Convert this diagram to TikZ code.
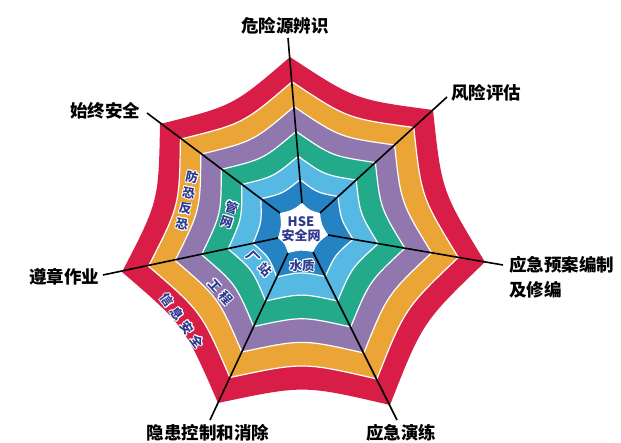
\documentclass[tikz,border=0pt]{standalone}
\usepackage{fontspec}
\usepackage{contour}
\usetikzlibrary{calc}
\newfontfamily\cjk{Noto Sans CJK SC}
\contourlength{0.9pt}
\contournumber{12}
\definecolor{wred}{HTML}{D81E47}
\definecolor{worange}{HTML}{EBA536}
\definecolor{wpurple}{HTML}{9078AE}
\definecolor{wgreen}{HTML}{23AA8B}
\definecolor{wlblue}{HTML}{55B9E3}
\definecolor{wdblue}{HTML}{2583C4}
\definecolor{navy}{HTML}{2D3A8F}
\newcommand\wt[1]{\contour{white}{#1}}
\newcommand\webring[2]{%
  \path[#2] (p#1-1) .. controls (c#1-1) .. (p#1-2) .. controls (c#1-2) .. (p#1-3)
    .. controls (c#1-3) .. (p#1-4) .. controls (c#1-4) .. (p#1-5)
    .. controls (c#1-5) .. (p#1-6) .. controls (c#1-6) .. (p#1-7)
    .. controls (c#1-7) .. (p#1-1) -- cycle;}
\begin{document}
\begin{tikzpicture}[x=1pt,y=-1pt,
  spokeline/.style={draw=black,line width=1.6pt},
  lab/.style={font={\cjk\bfseries\fontsize{17.5}{21}\selectfont},inner sep=0pt,text=black},
  bandtxt/.style={font={\cjk\bfseries\fontsize{12.5}{16}\selectfont},inner sep=0pt,text=navy},
  sep/.style={draw=white,line width=1.2pt}]
\useasboundingbox (0,0) rectangle (621,443);
\coordinate (O) at (301,230);
\foreach \j/\ix/\iy/\tx/\ty/\ex/\ey in {
  1/302/203/290/57/288/38,
  2/320/213/433/110/447/97,
  3/328/235/485/262/503/265,
  4/313/252/390/405/397/420,
  5/288/253/218/403/210/420,
  6/278/238/122/272/103/275,
  7/280/213/160/124/147/113}{
  \coordinate (in\j) at (\ix,\iy);
  \coordinate (tip\j) at (\tx,\ty);
  \coordinate (e\j) at (\ex,\ey);
}
\foreach \i/\t in {0/0,1/0.16,2/0.32,3/0.49,4/0.66,5/0.83,6/1}{
  \foreach \j in {1,...,7}{
    \coordinate (p\i-\j) at ($(in\j)!\t!(tip\j)$);
  }
}
\foreach \i in {0,...,6}{
  \foreach \j in {1,...,7}{
    \pgfmathtruncatemacro\jn{mod(\j,7)+1}
    \coordinate (c\i-\j) at ($($(p\i-\j)!0.5!(p\i-\jn)$)!0.11!(O)$);
  }
}
\webring{6}{fill=wred}
\webring{5}{fill=worange,sep}
\webring{4}{fill=wpurple,sep}
\webring{3}{fill=wgreen,sep}
\webring{2}{fill=wlblue,sep}
\webring{1}{fill=wdblue,sep}
\webring{0}{fill=white}
% band texts
\node[bandtxt,align=center,rotate=-12] (t1) at (187,201) {\wt{防}\\\wt{恐}\\\wt{反}\\\wt{恐}};
\node[bandtxt,align=center,rotate=-18,font={\cjk\bfseries\fontsize{12.5}{15}\selectfont}] (t2) at (229.5,215) {\wt{管}\\\wt{网}};
\node[bandtxt,rotate=-45] (t3) at (259,264) {\wt{厂}\hspace{4pt}\wt{站}};
\node[bandtxt,rotate=-48] (t4) at (220,292) {\wt{工}\hspace{4pt}\wt{程}};
\node[bandtxt,rotate=-54] (t5) at (182,321) {\wt{信}\hspace{4.5pt}\wt{息}\hspace{4.5pt}\wt{安}\hspace{4.5pt}\wt{全}};
\node[bandtxt] (t6) at (302,266) {\wt{水质}};
\node[bandtxt,font={\cjk\bfseries\fontsize{13}{13}\selectfont}] (hse) at (301,222) {HSE};
\node[bandtxt,font={\cjk\bfseries\fontsize{13}{13}\selectfont}] (anq) at (301,236) {安全网};
% spokes
\foreach \j in {1,...,7}{\draw[spokeline] (e\j) -- (in\j);}
% labels
\node[lab] (L1) at (285,26) {危险源辨识};
\node[lab] (L2) at (486,93) {风险评估};
\node[lab,anchor=north west,align=left,font={\cjk\bfseries\fontsize{17.5}{25}\selectfont}] (L3) at (509,256) {应急预案编制\\及修编};
\node[lab] (L4) at (401,433) {应急演练};
\node[lab] (L5) at (208,433) {隐患控制和消除};
\node[lab] (L6) at (64,277) {遵章作业};
\node[lab] (L7) at (105,111) {始终安全};
\end{tikzpicture}
\end{document}
